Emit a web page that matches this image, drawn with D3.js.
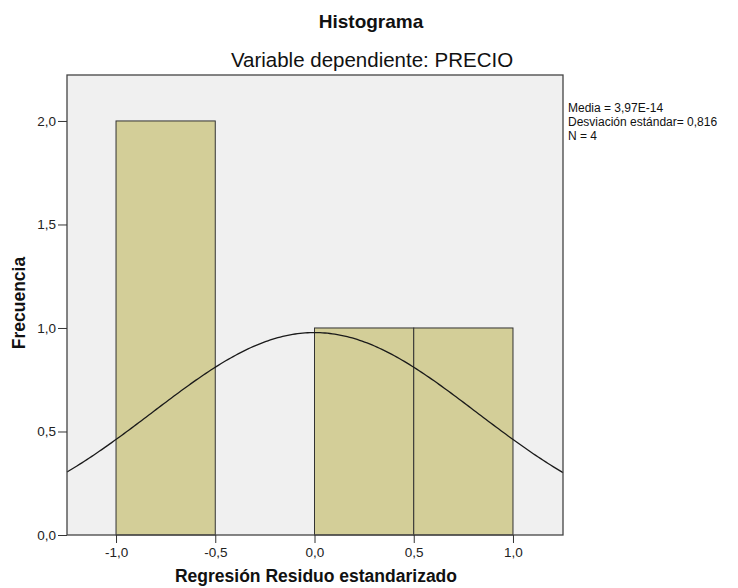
<!DOCTYPE html>
<html><head><meta charset="utf-8">
<script src="https://cdn.jsdelivr.net/npm/d3@7"></script>
<style>body{margin:0;background:#fff;} svg{display:block;font-family:"Liberation Sans",Arial,sans-serif;}</style>
</head><body>
<svg id="c" width="738" height="588"></svg>
<script>
const binStarts = [-1.0, -0.5, 0.0, 0.5];
const binEnds = [-0.5, 0.0, 0.5, 1.0];
const frequencies = [2, 0, 1, 1];
const xTicks = [-1.0, -0.5, 0.0, 0.5, 1.0];
const yTicks = [0.0, 0.5, 1.0, 1.5, 2.0];
const statMean = 3.97e-14;
const statSD = 0.816;
const statN = 4;
const legendLines = ["Media = 3,97E-14", "Desviación estándar= 0,816", "N = 4"];

const svg = d3.select("#c");
const L = 67, T = 75, R = 563, B = 535;
const xMin = -1.247, xMax = 1.252;
const x = d3.scaleLinear().domain([xMin, xMax]).range([L, R]);
const y = d3.scaleLinear().domain([0, 2.222]).range([B, T]);
const fmt = d => d3.format(".1f")(d).replace(".", ",").replace("−", "-");

svg.append("rect").attr("x", L).attr("y", T).attr("width", R - L).attr("height", B - T)
  .attr("fill", "#f0f0f0");

const bars = binStarts.map((s, i) => ({s, e: binEnds[i], f: frequencies[i]})).filter(d => d.f > 0);
svg.selectAll("rect.bar").data(bars).enter().append("rect")
  .attr("x", d => x(d.s)).attr("y", d => y(d.f))
  .attr("width", d => x(d.e) - x(d.s)).attr("height", d => y(0) - y(d.f))
  .attr("fill", "#d3ce98").attr("stroke", "#333").attr("stroke-width", 1);

// normal curve from the stated statistics (mean, SD, N, bin width)
const w = binEnds[0] - binStarts[0];
const pts = d3.range(0, 201).map(i => {
  const xv = xMin + i * ((xMax - xMin) / 200);
  const yv = statN * w / (statSD * Math.sqrt(2 * Math.PI)) * Math.exp(-0.5 * Math.pow((xv - statMean) / statSD, 2));
  return [xv, yv];
});
svg.append("path").datum(pts)
  .attr("d", d3.line().x(d => x(d[0])).y(d => y(d[1])))
  .attr("fill", "none").attr("stroke", "#1a1a1a").attr("stroke-width", 1.3);

svg.append("rect").attr("x", L).attr("y", T).attr("width", R - L).attr("height", B - T)
  .attr("fill", "none").attr("stroke", "#444").attr("stroke-width", 1.3);

const yAxis = svg.append("g").attr("transform", `translate(${L},0)`)
  .call(d3.axisLeft(y).tickValues(yTicks).tickFormat(fmt).tickSize(9).tickPadding(2).tickSizeOuter(0));
yAxis.select(".domain").remove();
yAxis.selectAll("text").attr("font-size", 13.5).attr("fill", "#222").attr("font-family", "Liberation Sans, Arial, sans-serif");
yAxis.selectAll("line").attr("stroke", "#333");

const xAxis = svg.append("g").attr("transform", `translate(0,${B})`)
  .call(d3.axisBottom(x).tickValues(xTicks).tickFormat(fmt).tickSize(8).tickPadding(4).tickSizeOuter(0));
xAxis.select(".domain").remove();
xAxis.selectAll("text").attr("font-size", 13.5).attr("fill", "#222").attr("font-family", "Liberation Sans, Arial, sans-serif");
xAxis.selectAll("line").attr("stroke", "#333");

svg.append("text").attr("x", 371).attr("y", 28).attr("text-anchor", "middle")
  .attr("font-size", 19).attr("font-weight", "bold").attr("fill", "#111").text("Histograma");
svg.append("text").attr("x", 372).attr("y", 67).attr("text-anchor", "middle")
  .attr("font-size", 20.5).attr("fill", "#111").text("Variable dependiente: PRECIO");
svg.append("text").attr("x", 316).attr("y", 582).attr("text-anchor", "middle")
  .attr("font-size", 17.5).attr("font-weight", "bold").attr("fill", "#111").text("Regresión Residuo estandarizado");
svg.append("text").attr("transform", "translate(25,303) rotate(-90)").attr("text-anchor", "middle")
  .attr("font-size", 17.5).attr("font-weight", "bold").attr("fill", "#111").text("Frecuencia");

svg.selectAll("text.leg").data(legendLines).enter().append("text")
  .attr("x", 568).attr("y", (d, i) => 112 + i * 13.9).attr("font-size", 12).attr("fill", "#111").text(d => d);
</script>
</body></html>
